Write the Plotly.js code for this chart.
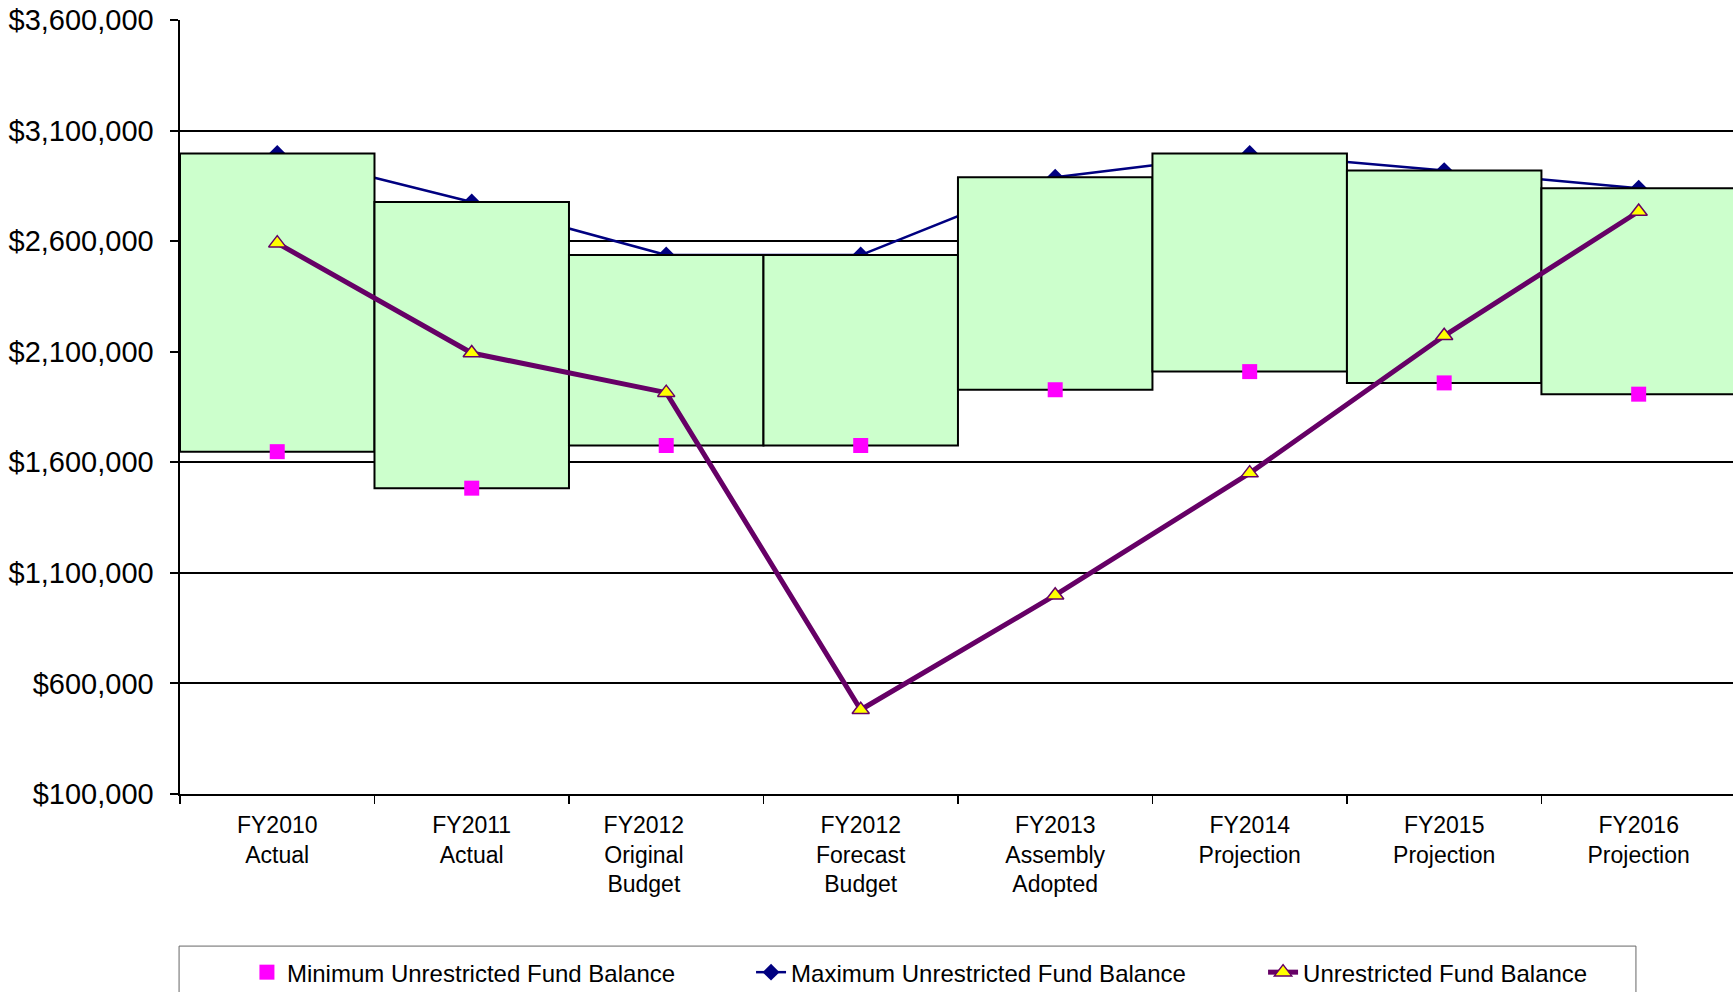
<!DOCTYPE html>
<html>
<head>
<meta charset="utf-8">
<script src="https://cdn.plot.ly/plotly-3.0.1.min.js"></script>
<style>
  html, body { margin: 0; padding: 0; background: #ffffff; }
  #chart { width: 1733px; height: 992px; }
</style>
</head>
<body>
<div id="chart"></div>
<script>
// ---- data ----
var categories = [
  'FY2010<br>Actual',
  'FY2011<br>Actual',
  'FY2012&nbsp;&nbsp;&nbsp;&nbsp;&nbsp;&nbsp;&nbsp;<br>Original&nbsp;&nbsp;&nbsp;&nbsp;&nbsp;&nbsp;&nbsp;<br>Budget&nbsp;&nbsp;&nbsp;&nbsp;&nbsp;&nbsp;&nbsp;',
  'FY2012<br>Forecast<br>Budget',
  'FY2013<br>Assembly<br>Adopted',
  'FY2014<br>Projection',
  'FY2015<br>Projection',
  'FY2016<br>Projection'
];
var minBalance  = [1648000, 1483000, 1676000, 1676000, 1928000, 2010000, 1959000, 1908000];
var maxBalance  = [2996000, 2777000, 2537000, 2537000, 2889000, 2996000, 2919000, 2839000];
var fundBalance = [2591000, 2094000, 1915000, 481000, 999000, 1551000, 2172000, 2734000];
var yTickVals = [100000, 600000, 1100000, 1600000, 2100000, 2600000, 3100000, 3600000];
var yTickText = ['$100,000', '$600,000', '$1,100,000', '$1,600,000', '$2,100,000', '$2,600,000', '$3,100,000', '$3,600,000'];

var seriesNames = {
  min: 'Minimum Unrestricted Fund Balance',
  max: 'Maximum Unrestricted Fund Balance',
  ufb: 'Unrestricted Fund Balance'
};

// range band (min..max) drawn as floating bars
var bandHeight = maxBalance.map(function (v, i) { return v - minBalance[i]; });

var FONT = 'Liberation Sans, Arial, sans-serif';
var yRange = [100000, 3600000];
var xRange = [-0.5, 7.485];

var traces = [
  {
    type: 'scatter', mode: 'lines+markers',
    name: seriesNames.max, legend: 'legend2',
    x: categories, y: maxBalance,
    xaxis: 'x', yaxis: 'y',
    line: { color: '#000080', width: 2.5 },
    marker: { symbol: 'diamond', size: 13, color: '#000080' },
    hoverinfo: 'y'
  },
  {
    type: 'bar', showlegend: false,
    x: categories, y: bandHeight, base: minBalance,
    xaxis: 'x', yaxis: 'y2',
    marker: { color: '#CCFFCC', line: { color: '#000000', width: 2 } },
    width: 1.0,
    hoverinfo: 'skip'
  },
  {
    type: 'scatter', mode: 'markers',
    name: seriesNames.min, legend: 'legend',
    x: categories, y: minBalance,
    xaxis: 'x', yaxis: 'y3',
    marker: { symbol: 'square', size: 15, color: '#FF00FF', line: { width: 0 } },
    hoverinfo: 'y'
  },
  {
    type: 'scatter', mode: 'lines+markers',
    name: seriesNames.ufb, legend: 'legend3',
    x: categories, y: fundBalance,
    xaxis: 'x', yaxis: 'y3',
    line: { color: '#660066', width: 5 },
    marker: { symbol: 'triangle-up', size: 15, color: '#FFFF00', line: { color: '#660066', width: 1.5 } },
    hoverinfo: 'y'
  }
];

function hiddenY() {
  return { overlaying: 'y', range: yRange, visible: false, showgrid: false, zeroline: false };
}
function legendAt(xp) {
  return {
    orientation: 'h',
    x: xp, xanchor: 'left',
    y: -0.2307, yanchor: 'middle',
    font: { family: FONT, size: 24, color: '#000000' },
    bgcolor: 'rgba(0,0,0,0)',
    borderwidth: 0
  };
}

var layout = {
  width: 1733, height: 992,
  margin: { l: 180, r: 0, t: 20, b: 198, pad: 0, autoexpand: false },
  paper_bgcolor: '#ffffff', plot_bgcolor: '#ffffff',
  font: { family: FONT, color: '#000000' },
  bargap: 0,
  showlegend: true,
  xaxis: {
    type: 'category',
    categoryorder: 'array', categoryarray: categories,
    range: xRange,
    tickson: 'boundaries',
    ticks: 'outside', ticklen: 8, tickwidth: 1.5, tickcolor: '#000000',
    showline: true, linecolor: '#000000', linewidth: 2,
    showgrid: false, zeroline: false,
    tickfont: { family: FONT, size: 23, color: '#000000' },
    ticklabelstandoff: 9
  },
  yaxis: {
    range: yRange,
    tickmode: 'array', tickvals: yTickVals, ticktext: yTickText,
    ticks: 'outside', ticklen: 8, tickwidth: 2, tickcolor: '#000000',
    showline: true, linecolor: '#000000', linewidth: 2.5,
    showgrid: true, gridcolor: '#000000', gridwidth: 2,
    zeroline: false,
    tickfont: { family: FONT, size: 29, color: '#000000' },
    ticklabelstandoff: 10
  },
  yaxis2: hiddenY(),
  yaxis3: hiddenY(),
  legend: legendAt(0.0431),
  legend2: legendAt(0.3677),
  legend3: legendAt(0.6974),
  shapes: [
    {
      type: 'rect', xref: 'paper', yref: 'paper',
      x0: -0.0006, x1: 0.9375, y0: -0.1965, y1: -0.32,
      line: { color: '#666666', width: 1 },
      fillcolor: 'rgba(0,0,0,0)', layer: 'below'
    }
  ]
};

Plotly.newPlot('chart', traces, layout, { displayModeBar: false, staticPlot: true });
</script>
</body>
</html>
